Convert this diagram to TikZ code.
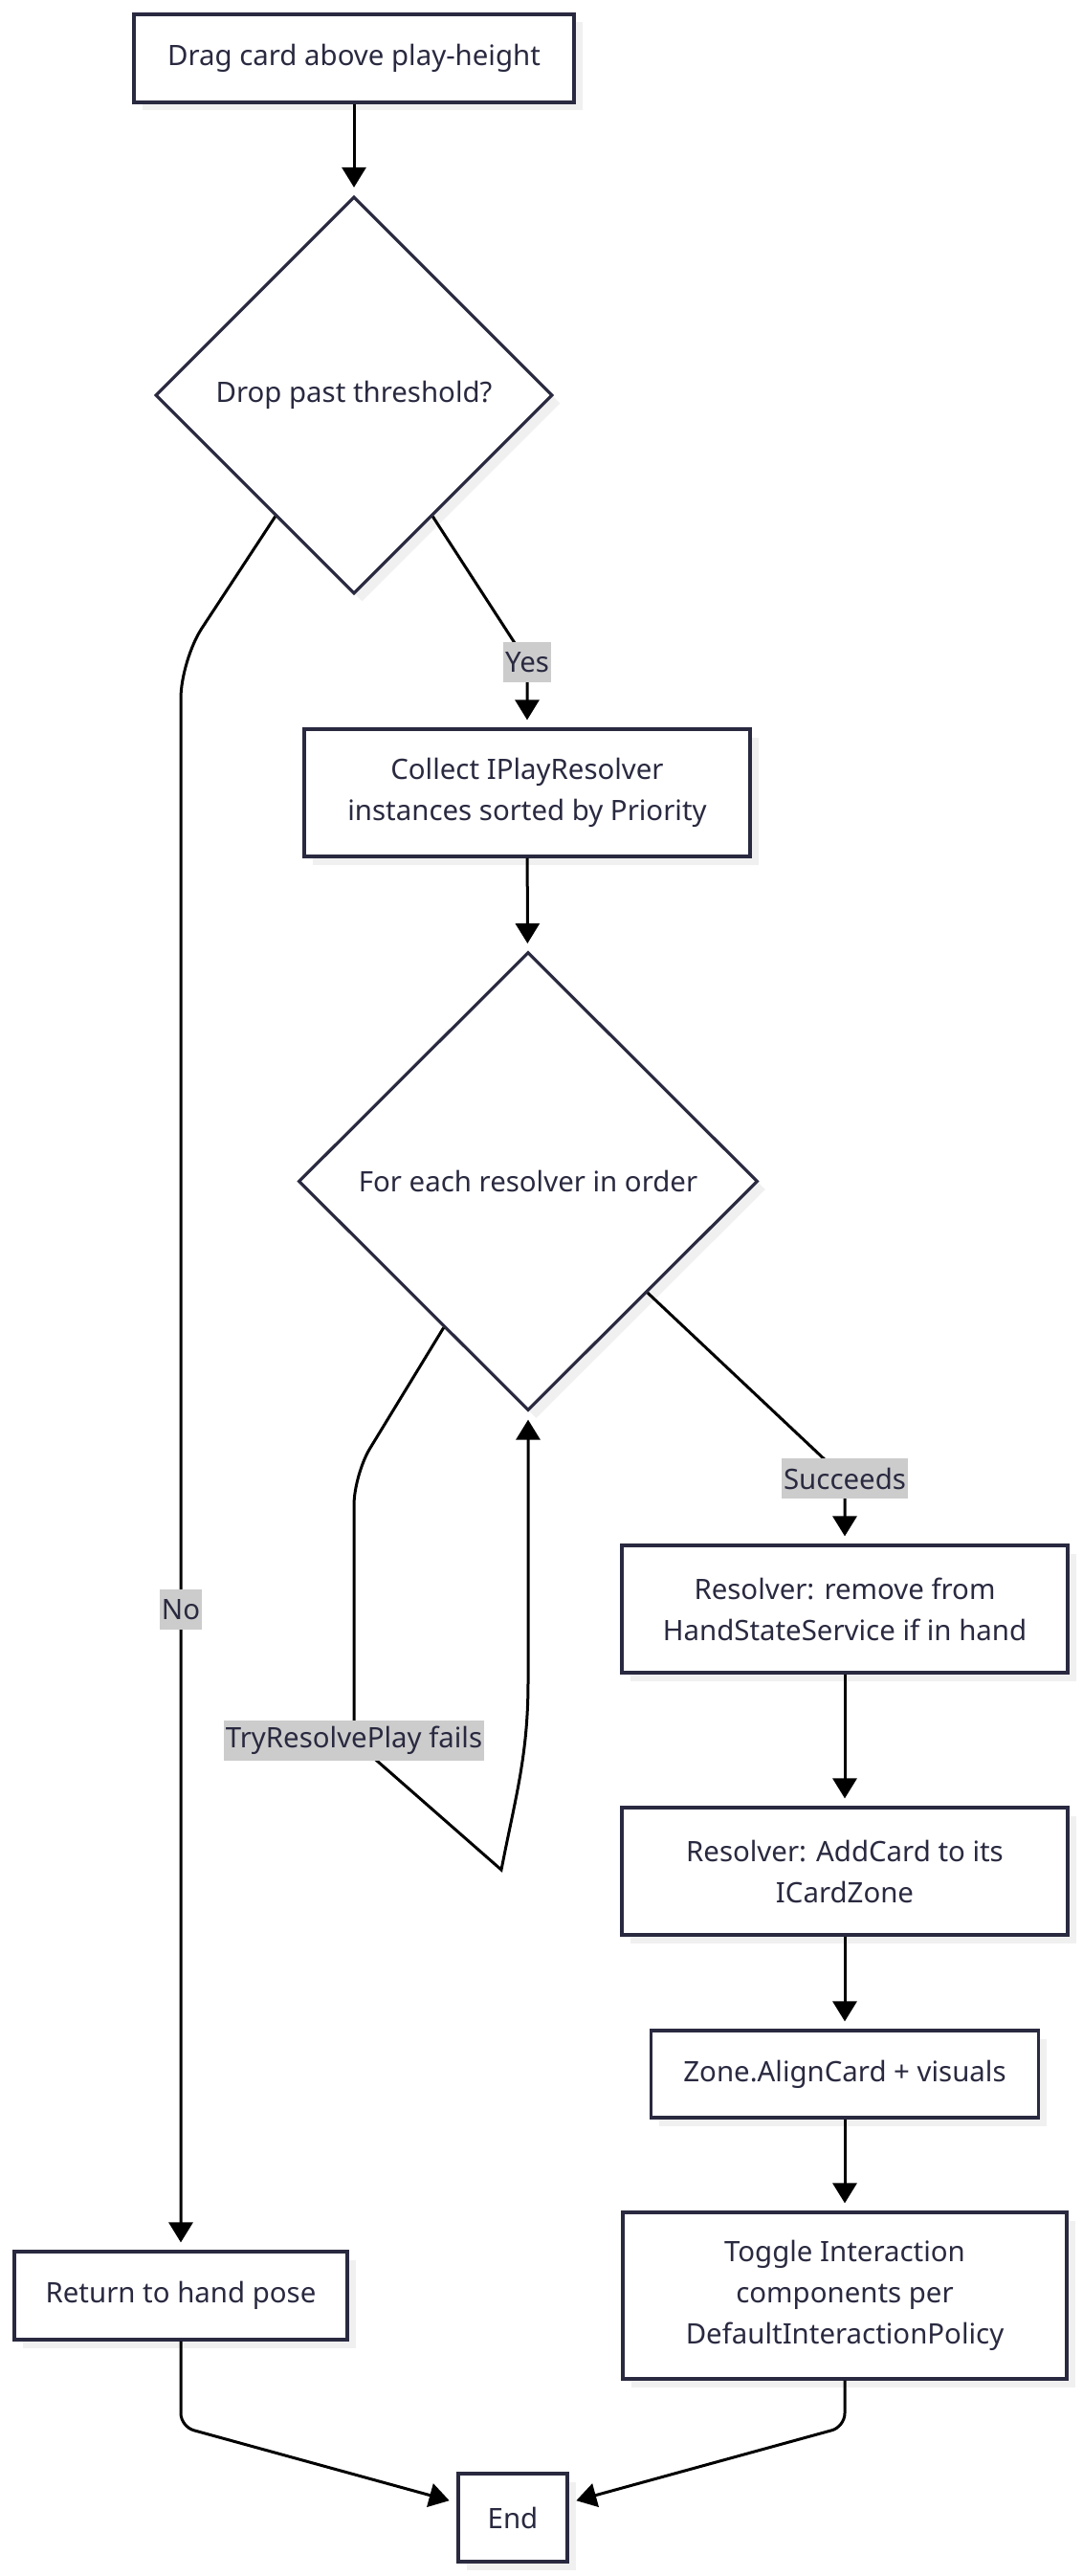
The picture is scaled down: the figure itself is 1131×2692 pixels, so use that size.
\documentclass[tikz,border=0pt]{standalone}
\usepackage{fontspec}
\setmainfont{Noto Sans}
\usetikzlibrary{arrows.meta,calc,shapes.geometric,shadows}
\definecolor{BoxClr}{rgb}{0.16,0.16,0.25}
\definecolor{LabelClr}{rgb}{0.8,0.8,0.8}
\definecolor{ShadowClr}{rgb}{0.94,0.94,0.94}

\begin{document}
\begin{tikzpicture}[x=.5pt,y=-.5pt,
  box/.style={draw=BoxClr,line width=1.6pt,fill=white,text=BoxClr,align=center,inner sep=0pt,
    font=\fontsize{14.7pt}{21.5pt}\selectfont,
    general shadow={fill=ShadowClr,shadow xshift=4.25pt,shadow yshift=-4.25pt}},
  decision/.style={box,diamond,aspect=1},
  flow/.style={line width=1.5pt,-{Triangle[length=10.5pt,width=12.5pt]},shorten >=4pt},
  lbl/.style={fill=LabelClr,text=BoxClr,inner xsep=1pt,inner ysep=0pt,minimum height=21pt,
    font=\fontsize{14.7pt}{21.5pt}\selectfont}]
\useasboundingbox (0,0) rectangle (1131,2692);

\node[box,minimum width=230pt,minimum height=46pt] (start) at (370,61) {Drag card above play-height};
\node[decision,minimum width=207.5pt,minimum height=207.5pt] (d1) at (370,413) {Drop past threshold?};
\node[box,minimum width=233pt,minimum height=66.5pt] (collect) at (551,828.5) {Collect IPlayResolver\\instances sorted by Priority};
\node[decision,minimum width=240pt,minimum height=239.5pt] (d2) at (552,1234.5) {For each resolver in order};
\node[box,minimum width=233pt,minimum height=66.5pt] (remove) at (883,1681.5) {Resolver: remove from\\HandStateService if in hand};
\node[box,minimum width=233pt,minimum height=66.5pt] (addcard) at (883,1955.5) {Resolver: AddCard to its\\ICardZone};
\node[box,minimum width=202.5pt,minimum height=45.5pt] (align) at (883,2167.5) {Zone.AlignCard + visuals};
\node[box,minimum width=232pt,minimum height=87pt] (toggle) at (883,2399) {Toggle Interaction\\components per\\DefaultInteractionPolicy};
\node[box,minimum width=174pt,minimum height=46pt] (back) at (189,2399) {Return to hand pose};
\node[box,minimum width=57pt,minimum height=46pt] (fin) at (536,2631) {End};

\draw[flow] (start) -- (d1);
\draw[flow] (d1.-57) -- (551,692) node[lbl] {Yes} -- (collect);
\draw[flow] (d1.-123) [rounded corners=20pt] -- (189,690) [sharp corners] -- (189,1682) node[lbl] {No} -- (back);
\draw[flow] (collect) -- (d2);
\draw[flow] (d2.-43) -- (883,1545) node[lbl] {Succeeds} -- (remove);
\draw[flow] (d2.-120) [rounded corners=16pt] -- (370,1541) [sharp corners] -- (370,1819) node[lbl] {TryResolvePlay fails}
  -- (524,1954) to[out=79,in=-90] (552,1757) -- (d2.south);
\draw[flow] (remove) -- (addcard);
\draw[flow] (addcard) -- (align);
\draw[flow] (align) -- (toggle);
\draw[flow,rounded corners=7pt] (back) -- (189,2536) -- (fin.165);
\draw[flow,rounded corners=7pt] (toggle) -- (883,2536) -- (fin.15);

\end{tikzpicture}
\end{document}
